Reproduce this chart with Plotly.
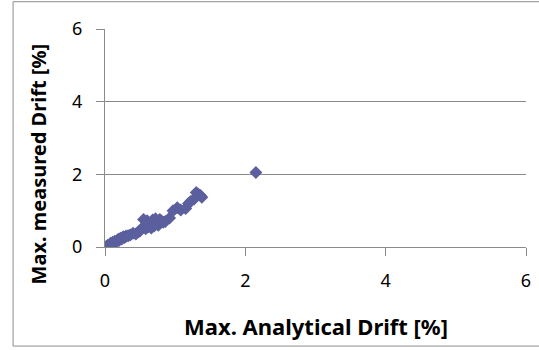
import plotly.graph_objects as go

# Maximum drift per specimen: analytical prediction vs. measured value [%]
analytical_drift = [
    0.00, 0.02, 0.04, 0.05, 0.07, 0.08, 0.10, 0.11, 0.12, 0.14, 0.15, 0.17,
    0.19, 0.20, 0.22, 0.24, 0.26, 0.28, 0.30, 0.33, 0.36, 0.40, 0.44, 0.48,
    0.50, 0.53, 0.55, 0.58, 0.60, 0.62, 0.64, 0.66, 0.68, 0.70, 0.72, 0.74,
    0.76, 0.78, 0.80, 0.83, 0.86, 0.92, 0.97, 1.03, 1.08, 1.15, 1.19, 1.22,
    1.27, 1.30, 1.33, 1.36, 1.38, 2.15,
]
measured_drift = [
    0.00, 0.01, 0.05, 0.03, 0.07, 0.10, 0.08, 0.13, 0.10, 0.16, 0.12, 0.17,
    0.21, 0.18, 0.24, 0.22, 0.28, 0.26, 0.30, 0.31, 0.33, 0.38, 0.36, 0.42,
    0.45, 0.52, 0.76, 0.50, 0.72, 0.56, 0.62, 0.52, 0.74, 0.58, 0.78, 0.63,
    0.60, 0.76, 0.72, 0.68, 0.70, 0.80, 1.00, 1.08, 1.02, 1.06, 1.20, 1.25,
    1.32, 1.50, 1.45, 1.42, 1.37, 2.05,
]

axis_ticks = [0, 2, 4, 6]

FONT = "Noto Sans"
GRID = "#8a8a8a"

fig = go.Figure(
    go.Scatter(
        x=analytical_drift,
        y=measured_drift,
        mode="markers",
        marker=dict(symbol="diamond", size=10, color="#5b5f9e", line=dict(width=0)),
        showlegend=False,
    )
)

fig.update_xaxes(
    range=[0, 6],
    tickvals=axis_ticks,
    showgrid=False,
    zeroline=False,
    showline=True,
    linecolor=GRID,
    linewidth=1,
    ticks="outside",
    ticklen=8,
    tickcolor=GRID,
    ticklabelstandoff=9,
    tickfont=dict(family=FONT, size=18, color="#000000"),
)
fig.update_yaxes(
    range=[0, 6],
    tickvals=axis_ticks,
    showgrid=True,
    gridcolor=GRID,
    gridwidth=1,
    zeroline=False,
    showline=True,
    linecolor=GRID,
    linewidth=1,
    ticks="outside",
    ticklen=8,
    tickcolor=GRID,
    ticklabelstandoff=10,
    tickfont=dict(family=FONT, size=18, color="#000000"),
)

# plot area: 426 x 218 px
PX_W, PX_H = 426.0, 218.1
fig.add_shape(
    type="rect", xref="paper", yref="paper",
    x0=(12 - 105) / PX_W, x1=(560 - 105) / PX_W,
    y0=(247.4 - 346.5) / PX_H, y1=(247.4 - 2) / PX_H,
    line=dict(color="#8c8c8c", width=1), fillcolor="rgba(0,0,0,0)", layer="below",
)

fig.add_annotation(
    text="<b>Max. Analytical Drift [%]</b>", xref="paper", yref="paper",
    x=(318 - 105) / PX_W, y=(247.4 - 326) / PX_H, showarrow=False,
    xanchor="center", yanchor="middle",
    font=dict(family=FONT, size=22, color="#000000"),
)
fig.add_annotation(
    text="<b>Max. measured Drift [%]</b>", xref="paper", yref="paper",
    x=(38 - 105) / PX_W, y=(247.4 - 165) / PX_H, showarrow=False,
    textangle=-90, xanchor="center", yanchor="middle",
    font=dict(family=FONT, size=20, color="#000000"),
)

fig.update_layout(
    width=539,
    height=350,
    margin=dict(l=105, r=8, t=29.3, b=102.6),
    paper_bgcolor="#ffffff",
    plot_bgcolor="#ffffff",
)

fig.write_html("out.html")
